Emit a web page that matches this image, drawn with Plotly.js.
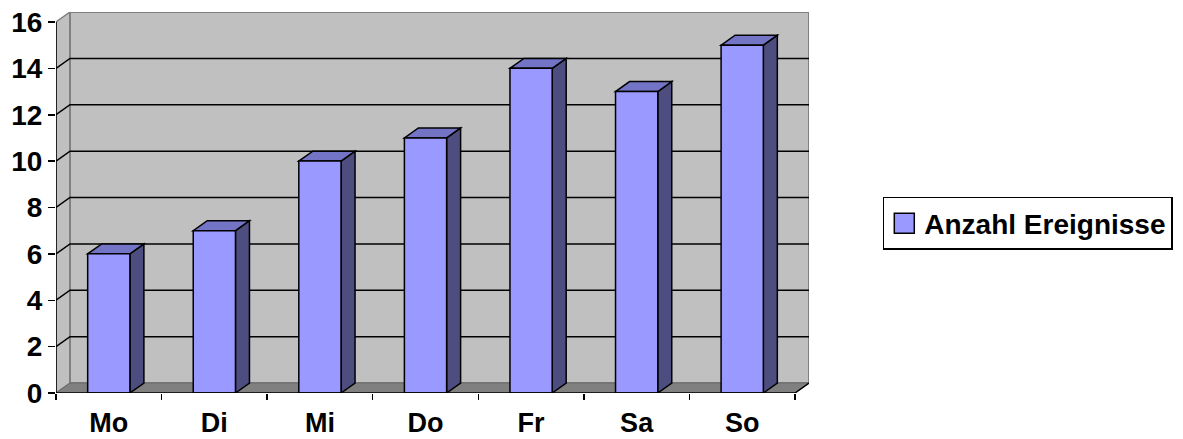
<!DOCTYPE html>
<html>
<head>
<meta charset="utf-8">
<script src="https://cdn.plot.ly/plotly-3.0.1.min.js"></script>
<style>
  html, body { margin: 0; padding: 0; background: #ffffff; }
  #chart { width: 1183px; height: 439px; }
</style>
</head>
<body>
<div id="chart"></div>
<script>
// ---- data ----
const days = ["Mo", "Di", "Mi", "Do", "Fr", "Sa", "So"];
const counts = [6, 7, 10, 11, 14, 13, 15];
const yTickValues = [0, 2, 4, 6, 8, 10, 12, 14, 16];
const seriesName = "Anzahl Ereignisse";

// ---- 3D look parameters (data units) ----
const depthX = 0.1326;   // horizontal offset of back wall
const depthY = 0.431;    // vertical offset of back wall
const barWidth = 0.4;
const yMax = 16;
const xIdx = days.map((d, i) => i);
const xLeft = -0.5, xRight = days.length - 0.5;

const colFront = "#9999FF", colTop = "#7474C6", colSide = "#4D4D80";
const wallColor = "#C0C0C0", floorColor = "#808080", edgeColor = "#808080";

function path(pts) {
  return "M" + pts.map(p => p[0] + "," + p[1]).join("L") + "Z";
}
function openPath(pts) {
  return "M" + pts.map(p => p[0] + "," + p[1]).join("L");
}

const shapes = [];
// left side wall
shapes.push({type: "path", xref: "x", yref: "y", layer: "below",
  path: path([[xLeft, 0], [xLeft + depthX, depthY], [xLeft + depthX, yMax + depthY], [xLeft, yMax]]),
  fillcolor: wallColor, line: {color: edgeColor, width: 1.5}});
// back wall
shapes.push({type: "path", xref: "x", yref: "y", layer: "below",
  path: path([[xLeft + depthX, depthY], [xRight + depthX, depthY], [xRight + depthX, yMax + depthY], [xLeft + depthX, yMax + depthY]]),
  fillcolor: wallColor, line: {color: edgeColor, width: 2}});
// floor
shapes.push({type: "path", xref: "x", yref: "y", layer: "below",
  path: path([[xLeft, 0], [xRight, 0], [xRight + depthX, depthY], [xLeft + depthX, depthY]]),
  fillcolor: floorColor, line: {color: "#6a6a6a", width: 1}});
// gridlines on side and back wall
yTickValues.filter(v => v > 0 && v < yMax).forEach(v => {
  shapes.push({type: "path", xref: "x", yref: "y", layer: "below",
    path: openPath([[xLeft, v], [xLeft + depthX, v + depthY], [xRight + depthX, v + depthY]]),
    line: {color: "#000000", width: 1.5}});
});
// bar side and top faces
xIdx.forEach((x, i) => {
  const v = counts[i];
  const l = x - barWidth / 2, r = x + barWidth / 2;
  shapes.push({type: "path", xref: "x", yref: "y", layer: "below",
    path: path([[r, 0], [r + depthX, depthY], [r + depthX, v + depthY], [r, v]]),
    fillcolor: colSide, line: {color: "#000000", width: 1.5}});
  shapes.push({type: "path", xref: "x", yref: "y", layer: "below",
    path: path([[l, v], [r, v], [r + depthX, v + depthY], [l + depthX, v + depthY]]),
    fillcolor: colTop, line: {color: "#000000", width: 1.5}});
});
// front axis lines
shapes.push({type: "line", xref: "x", yref: "y", layer: "above",
  x0: xLeft, y0: 0, x1: xLeft, y1: yMax, line: {color: "#000000", width: 1.5}});
shapes.push({type: "line", xref: "x", yref: "y", layer: "above",
  x0: xLeft, y0: 0, x1: xRight, y1: 0, line: {color: "#000000", width: 1.5}});
shapes.push({type: "line", xref: "x", yref: "y", layer: "above",
  x0: xRight, y0: 0, x1: xRight + depthX, y1: depthY, line: {color: "#000000", width: 1.5}});

const font = {family: "Arial, 'Liberation Sans', sans-serif", size: 28, color: "#000000", weight: 700};
const xFont = Object.assign({}, font, {size: 27});

const trace = {
  type: "bar",
  x: xIdx,
  y: counts,
  name: seriesName,
  width: barWidth,
  marker: {color: colFront, line: {color: "#000000", width: 1.5}},
  showlegend: true,
  hoverinfo: "skip"
};

const layout = {
  width: 1183, height: 439,
  margin: {l: 56, r: 374, t: 12, b: 46, pad: 0, autoexpand: false},
  paper_bgcolor: "#ffffff",
  plot_bgcolor: "rgba(0,0,0,0)",
  font: font,
  showlegend: true,
  bargap: 0,
  xaxis: {
    type: "linear",
    range: [xLeft, xRight + depthX],
    tickmode: "array",
    tickvals: xIdx,
    ticktext: days,
    ticks: "",
    ticklabelstandoff: 11,
    showgrid: false, zeroline: false, showline: false,
    tickfont: xFont,
    minor: {
      tickmode: "array",
      tickvals: xIdx.map(x => x - 0.5).concat([xRight]),
      ticks: "outside", ticklen: 6, tickwidth: 1.5, tickcolor: "#000000",
      showgrid: false
    },
    fixedrange: true
  },
  yaxis: {
    range: [0, yMax + depthY],
    tickmode: "array",
    tickvals: yTickValues,
    ticktext: yTickValues.map(String),
    ticks: "outside", ticklen: 7, tickwidth: 1.5, tickcolor: "#000000",
    showgrid: false, zeroline: false, showline: false,
    tickfont: font,
    fixedrange: true
  },
  legend: {
    x: 1.098, xanchor: "left",
    y: 0.445, yanchor: "middle",
    bgcolor: "#ffffff",
    bordercolor: "#000000",
    borderwidth: 1.5,
    font: font,
    itemclick: false, itemdoubleclick: false
  },
  shapes: shapes
};

Plotly.newPlot("chart", [trace], layout, {staticPlot: true, displayModeBar: false}).then(gd => {
  gd.querySelectorAll(".legendpoints path").forEach(p => {
    p.setAttribute("d", "M10,10H-10V-10H10Z");
  });
});
</script>
</body>
</html>
